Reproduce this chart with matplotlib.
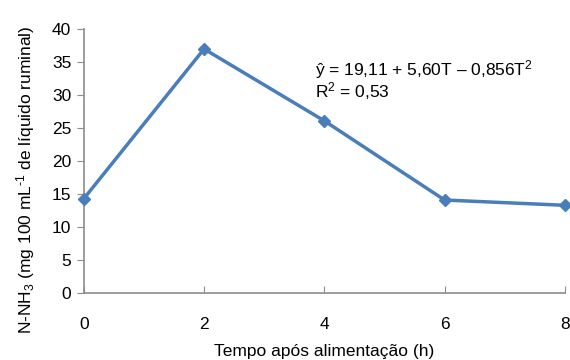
import matplotlib
matplotlib.use("Agg")
import matplotlib.pyplot as plt

plt.rcParams['font.family'] = ['Liberation Sans', 'DejaVu Sans']
plt.rcParams['mathtext.fontset'] = 'custom'
plt.rcParams['mathtext.rm'] = 'Liberation Sans'
plt.rcParams['mathtext.it'] = 'Liberation Sans:italic'
plt.rcParams['mathtext.default'] = 'rm'

# data
tempo = [0, 2, 4, 6, 8]
nnh3 = [14.3, 37.0, 26.1, 14.1, 13.3]
x_ticks = [0, 2, 4, 6, 8]
y_ticks = [0, 5, 10, 15, 20, 25, 30, 35, 40]

fig = plt.figure(figsize=(5.7, 3.6), dpi=100)
ax = fig.add_axes([0.147, 0.186, 0.844, 0.733])

ax.plot(tempo, nnh3, '-D', color='#4a7ebb', lw=2.5, markersize=6, clip_on=False, zorder=3)

ax.set_xlim(0, 8)
ax.set_ylim(0, 40)
ax.set_xticks(x_ticks)
ax.set_yticks(y_ticks)

for s in ['top', 'right']:
    ax.spines[s].set_visible(False)
for s in ['left', 'bottom']:
    ax.spines[s].set_color('#8c8c8c')
    ax.spines[s].set_linewidth(1.2)

ax.tick_params(axis='y', direction='out', length=5, color='#8c8c8c', labelsize=12.5, pad=4)
ax.tick_params(axis='x', direction='in', length=5, color='#8c8c8c', labelsize=12.5, pad=17)

ax.set_xlabel('Tempo após alimentação (h)', fontsize=12.5, labelpad=9)
ax.set_ylabel('N-NH$_3$ (mg 100 mL$^{\\text{-}1}$ de líquido ruminal)', fontsize=12.5)
ax.yaxis.set_label_coords(-0.097, 0.43)

ax.text(3.85, 35.6, 'ŷ = 19,11 + 5,60T – 0,856T$^2$\nR$^2$ = 0,53', fontsize=12.5,
        va='top', ha='left', linespacing=0.95)

fig.savefig('out.png', dpi=100)
